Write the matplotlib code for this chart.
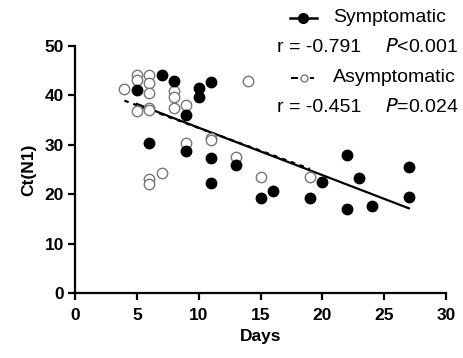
import matplotlib.pyplot as plt
from matplotlib.lines import Line2D
import numpy as np

plt.rcParams['font.family'] = ['Liberation Sans', 'DejaVu Sans']

# symptomatic (filled)
sym_days = [5, 6, 7, 8, 9, 9, 10, 10, 11, 11, 11, 13, 15, 16, 19, 20, 22, 22, 23, 24, 27, 27]
sym_ct = [41.1, 30.3, 44.1, 43.0, 36.0, 28.7, 41.5, 39.7, 42.8, 27.3, 22.3, 26.0,
          19.3, 20.7, 19.2, 22.4, 27.9, 17.1, 23.3, 17.6, 25.6, 19.5]

# asymptomatic (open)
asym_days = [4, 5, 5, 5, 6, 6, 6, 6, 6, 6, 6, 7, 8, 8, 8, 9, 9, 11, 11, 13, 14, 15, 19]
asym_ct = [41.2, 44.1, 43.1, 36.8, 44.1, 42.6, 40.5, 37.5, 23.0, 22.1, 37.0, 24.2,
           40.8, 39.7, 37.4, 38.1, 30.4, 31.3, 31.0, 27.6, 43.0, 23.5, 23.5]

fig = plt.figure(figsize=(4.63, 3.58), dpi=100)
ax = fig.add_axes([75/463, 1 - 293/358, 371/463, 247/358])

# regression lines
xs = np.array([min(sym_days), max(sym_days)])
k, b = np.polyfit(sym_days, sym_ct, 1)
ax.plot(xs, k*xs + b, color='black', lw=1.6, zorder=3)
xa = np.array([min(asym_days), max(asym_days)])
k2, b2 = np.polyfit(asym_days, asym_ct, 1)
ax.plot(xa, k2*xa + b2, color='black', lw=1.6, ls=(0, (2, 2.2)), zorder=3)

ax.plot(asym_days, asym_ct, 'o', ms=7.5, mfc='white', mec='#777777', mew=1.0,
        ls='none', zorder=4, clip_on=False)
ax.plot(sym_days, sym_ct, 'o', ms=7.5, mfc='black', mec='black',
        ls='none', zorder=5, clip_on=False)

ax.set_xlim(0, 30)
ax.set_ylim(0, 50)
ax.set_xticks(range(0, 31, 5))
ax.set_yticks(range(0, 51, 10))
for s in ['top', 'right']:
    ax.spines[s].set_visible(False)
for s in ['left', 'bottom']:
    ax.spines[s].set_linewidth(1.6)
ax.tick_params(width=1.6, length=5, labelsize=12.5)
ax.tick_params(axis='x', pad=6)
ax.tick_params(axis='y', pad=3)
for lbl in ax.get_xticklabels() + ax.get_yticklabels():
    lbl.set_fontweight('bold')
ax.set_xlabel('Days', fontsize=12.5, fontweight='bold', labelpad=4)
ax.set_ylabel('Ct(N1)', fontsize=12.5, fontweight='bold', labelpad=6)

# legend block
def fx(px):
    return px / 463
def fy(py):
    return 1 - py / 358

fig.add_artist(Line2D([fx(290), fx(317)], [fy(18), fy(18)], color='black', lw=1.8,
                      transform=fig.transFigure))
fig.add_artist(Line2D([fx(303)], [fy(18)], color='black', marker='o', ms=7,
                      transform=fig.transFigure))
fig.add_artist(Line2D([fx(292), fx(297)], [fy(78), fy(78)], color='black', lw=1.4,
                      transform=fig.transFigure))
fig.add_artist(Line2D([fx(311), fx(313)], [fy(78), fy(78)], color='black', lw=1.4,
                      transform=fig.transFigure))
fig.add_artist(Line2D([fx(303.5)], [fy(78)], marker='o', ms=5, mfc='white',
                      mec='#777777', mew=1.0, transform=fig.transFigure))

fs = 14
fig.text(fx(333), fy(18), 'Symptomatic', fontsize=fs, va='center', ha='left')
fig.text(fx(277), fy(47), 'r = -0.791', fontsize=fs, va='center', ha='left')
fig.text(fx(385), fy(47), '$\\it{P}$<0.001', fontsize=fs, va='center', ha='left')
fig.text(fx(333), fy(78), 'Asymptomatic', fontsize=fs, va='center', ha='left')
fig.text(fx(277), fy(107), 'r = -0.451', fontsize=fs, va='center', ha='left')
fig.text(fx(385), fy(107), '$\\it{P}$=0.024', fontsize=fs, va='center', ha='left')

fig.savefig('out.png', dpi=100)
